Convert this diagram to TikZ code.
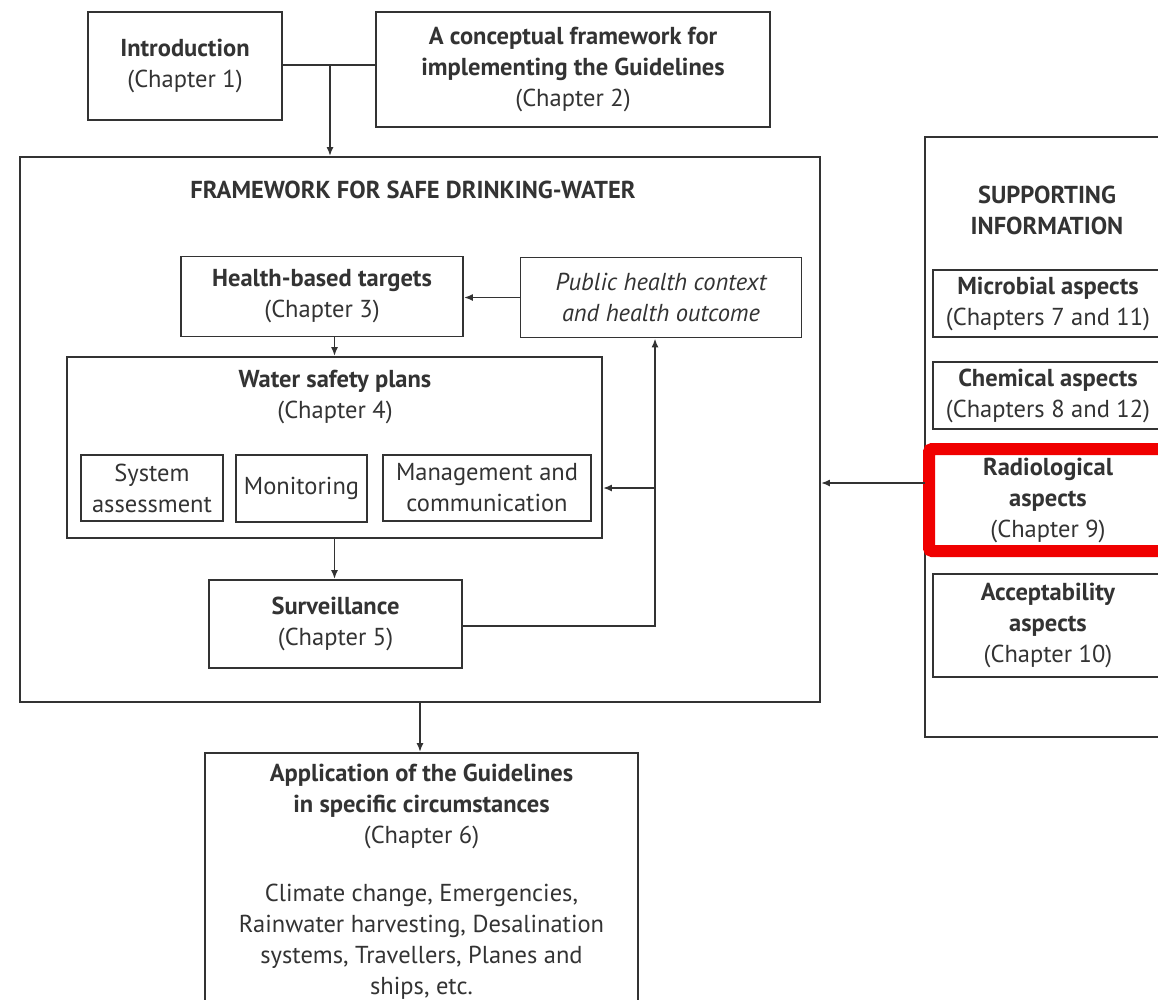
\documentclass[tikz,border=0pt]{standalone}
\usepackage{fontspec}
\setmainfont{PT Sans}
\usetikzlibrary{arrows.meta}
\definecolor{inkgray}{gray}{0.2}
\definecolor{markred}{RGB}{240,0,0}

\begin{document}
\begin{tikzpicture}[x=1pt,y=-1pt,line width=1.8pt,draw=inkgray,text=inkgray,>={Latex[length=9pt,width=7pt]}]
  \tikzstyle{box}=[rectangle,draw,inner sep=0pt,align=center,font=\fontsize{24.5}{31}\selectfont]
  \tikzstyle{title}=[inner sep=0pt,align=center,font=\fontsize{24.5}{31}\selectfont\bfseries]
  \clip (0,0) rectangle (1158,1000);
  \fill[white] (0,0) rectangle (1158,1000);

  \node[box,minimum width=194,minimum height=108] (intro) at (185,66) {\textbf{Introduction}\\(Chapter 1)};
  \node[box,minimum width=394,minimum height=115] (concept) at (573,69.5) {\textbf{A conceptual framework for}\\\textbf{implementing the Guidelines}\\(Chapter 2)};

  \node[box,minimum width=800,minimum height=545] (frame) at (420,429.5) {};
  \node[title] (frametitle) at (413,190) {FRAMEWORK FOR SAFE DRINKING-WATER};

  \node[box,minimum width=282,minimum height=80] (health) at (322,296.5) {\textbf{Health-based targets}\\(Chapter 3)};
  \node[box,minimum width=281,minimum height=80,font=\fontsize{24.5}{31}\selectfont\itshape] (public) at (661,297.5) {Public health context\\and health outcome};

  \node[box,minimum width=535,minimum height=181] (wsp) at (334.5,447.5) {};
  \node[title] (wsptitle) at (335,397) {Water safety plans\\\mdseries(Chapter 4)};
  \node[box,minimum width=142,minimum height=66] (sysass) at (152,488) {System\\assessment};
  \node[box,minimum width=131,minimum height=67] (monit) at (301.5,488.5) {Monitoring};
  \node[box,minimum width=208,minimum height=66] (mgmt) at (487,488) {Management and\\communication};

  \node[box,minimum width=253,minimum height=88] (surv) at (335.5,624) {\textbf{Surveillance}\\(Chapter 5)};

  \node[box,minimum width=240,minimum height=600] (support) at (1045,437) {};
  \node[title] (supptitle) at (1047,210) {SUPPORTING\\INFORMATION};
  \node[box,minimum width=230,minimum height=67] (micro) at (1048,303.5) {\textbf{Microbial aspects}\\(Chapters 7 and 11)};
  \node[box,minimum width=230,minimum height=67] (chem) at (1048,395.5) {\textbf{Chemical aspects}\\(Chapters 8 and 12)};
  \node[box,minimum width=230,minimum height=102] (radio) at (1048,500) {\textbf{Radiological}\\\textbf{aspects}\\(Chapter 9)};
  \node[rectangle,draw=markred,line width=12pt,rounded corners=3pt,minimum width=238,minimum height=102] (radiomark) at (1048,500) {};
  \node[box,minimum width=230,minimum height=103] (accept) at (1048,625.5) {\textbf{Acceptability}\\\textbf{aspects}\\(Chapter 10)};

  \node[box,minimum width=433,minimum height=280] (app) at (421.5,893) {};
  \node[title,anchor=north] (apptext) at (421.5,763.5) {Application of the Guidelines\\in specific circumstances\\\mdseries(Chapter 6)\\[27pt]\mdseries Climate change, Emergencies,\\\mdseries Rainwater harvesting, Desalination\\\mdseries systems, Travellers, Planes and\\\mdseries ships, etc.};

  \coordinate (join) at (330,65);
  \coordinate (loop) at (655,626);
  \coordinate (feed) at (655,488);
  \coordinate (suparrow) at (925,483);

  \draw (intro.east |- join) -- (concept.west |- join);
  \draw[->] (join) -- (join |- frame.north);

  \draw[->] (public.west) -- (health.east |- public.west);
  \draw[->] (health.south -| wsp.north) -- (wsp.north);
  \draw[->] (wsp.south) -- (wsp.south |- surv.north);
  \draw[->] (surv.east |- loop) -- (loop) -- (loop |- public.south);
  \draw[->] (feed) -- (wsp.east |- feed);

  \draw[->] (suparrow) -- (frame.east |- suparrow);
  \draw[->] (frame.south) -- (frame.south |- app.north);
\end{tikzpicture}
\end{document}
